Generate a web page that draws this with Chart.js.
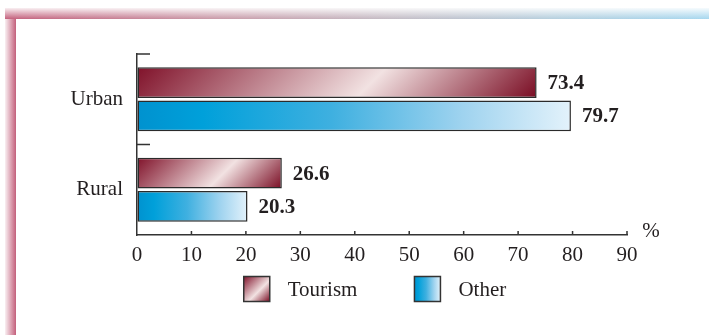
<!DOCTYPE html>
<html lang="en">
<head>
  <meta charset="utf-8"/>
  <title>Tourism and other – urban and rural</title>
  <script src="https://cdn.jsdelivr.net/npm/chart.js"></script>
  <style>
    html, body { margin: 0; padding: 0; background: #fff; }
    .wrap { position: relative; width: 709px; height: 335px; overflow: hidden; }
    .band-left {
      position: absolute; left: 5px; top: 8px; bottom: 0; width: 11px;
      background: linear-gradient(to right, rgba(255,255,255,0.9), rgba(255,255,255,0)), #c4607c;
    }
    .band-top {
      position: absolute; left: 5px; top: 8px; right: 0; height: 11px;
      background: linear-gradient(to bottom, rgba(255,255,255,0.9), rgba(255,255,255,0)),
                  linear-gradient(to right, #c4607c 0%, #c99aa8 30%, #c4bcc5 55%, #b5cfde 78%, #a6d7ef 100%);
    }
    canvas { position: absolute; left: 0; top: 0; }
  </style>
</head>
<body>
  <div class="wrap">
    <div class="band-left"></div>
    <div class="band-top"></div>
    <canvas id="shareChart" width="709" height="335"></canvas>
  </div>
  <script>
    // data
    const categories = ['Urban', 'Rural'];
    const seriesNames = ['Tourism', 'Other'];
    const tourism = [73.4, 26.6];
    const other = [79.7, 20.3];
    const xMin = 0, xMax = 90, xStep = 10;
    const unitLabel = '%';

    const serif = '"Liberation Serif", "Times New Roman", serif';
    const ink = '#231f20';
    const axisColor = '#333333';

    // diagonal dark-light-dark red fill
    function tourismFill(c, x0, x1, yTop, yBot) {
      const L = x1 - x0, h = yBot - yTop;
      const cx = (x0 + x1) / 2, cy = (yTop + yBot) / 2, d = (L + h) / 2;
      const g = c.createLinearGradient(cx - d / 2, cy - d / 2, cx + d / 2, cy + d / 2);
      g.addColorStop(0, '#80122a');
      g.addColorStop(0.58, '#f2e2e2');
      g.addColorStop(1, '#790b22');
      return g;
    }

    // blue fading to pale blue
    function otherFill(c, x0, x1) {
      const g = c.createLinearGradient(x0, 0, x1, 0);
      g.addColorStop(0, '#0092cf');
      g.addColorStop(0.15, '#00a0da');
      g.addColorStop(0.45, '#3fb0e0');
      g.addColorStop(0.75, '#9fd3ef');
      g.addColorStop(1, '#e3f2fb');
      return g;
    }

    const fills = [tourismFill, otherFill];
    const flat = ['#b05a6a', '#2aa8dc'];

    function barFill(ctx) {
      const el = ctx.element;
      if (!el || !Number.isFinite(el.x) || !Number.isFinite(el.base)) return flat[ctx.datasetIndex];
      const x0 = Math.min(el.base, el.x), x1 = Math.max(el.base, el.x);
      return fills[ctx.datasetIndex](ctx.chart.ctx, x0, x1, el.y - el.height / 2, el.y + el.height / 2);
    }

    // inside tick marks on both axes + the unit label
    const axisMarks = {
      id: 'axisMarks',
      afterDraw(chart) {
        const c = chart.ctx, x = chart.scales.x, y = chart.scales.y;
        c.save();
        c.strokeStyle = axisColor;
        c.lineWidth = 1.5;
        c.beginPath();
        for (let i = 0; i < categories.length; i++) {
          const py = y.getPixelForValue(i - 0.5);
          c.moveTo(x.left, py);
          c.lineTo(x.left + 13, py);
        }
        x.ticks.forEach(t => {
          if (t.value === xMin) return;
          const px = x.getPixelForValue(t.value);
          c.moveTo(px, y.bottom);
          c.lineTo(px, y.bottom - 4);
        });
        c.stroke();
        c.fillStyle = ink;
        c.font = '21px ' + serif;
        c.textAlign = 'center';
        c.textBaseline = 'middle';
        c.fillText(unitLabel, x.right + 24, y.bottom - 4);
        c.restore();
      }
    };

    // value at the end of each bar
    const barValues = {
      id: 'barValues',
      afterDatasetsDraw(chart) {
        const c = chart.ctx;
        c.save();
        c.fillStyle = ink;
        c.font = 'bold 21px ' + serif;
        c.textAlign = 'left';
        c.textBaseline = 'middle';
        chart.data.datasets.forEach((ds, di) => {
          chart.getDatasetMeta(di).data.forEach((el, i) => {
            c.fillText(ds.data[i].toFixed(1), el.x + 11, el.y + 1);
          });
        });
        c.restore();
      }
    };

    // legend under the axis with gradient swatches
    const swatchLegend = {
      id: 'swatchLegend',
      afterDraw(chart) {
        const c = chart.ctx, area = chart.chartArea;
        const bw = 26, bh = 25, gap = 18, spacing = 57, cy = 289;
        c.save();
        c.font = '21px ' + serif;
        const widths = chart.data.datasets.map(ds => c.measureText(ds.label).width);
        let total = 0;
        widths.forEach((w, i) => { total += bw + gap + w + (i ? spacing : 0); });
        let px = (area.left + area.right) / 2 - 7 - total / 2;
        chart.data.datasets.forEach((ds, i) => {
          const top = cy - bh / 2;
          c.fillStyle = fills[i](c, px, px + bw, top, top + bh);
          c.fillRect(px, top, bw, bh);
          c.strokeStyle = axisColor;
          c.lineWidth = 1.5;
          c.strokeRect(px, top, bw, bh);
          c.fillStyle = ink;
          c.textAlign = 'left';
          c.textBaseline = 'middle';
          c.fillText(ds.label, px + bw + gap, cy + 1);
          px += bw + gap + widths[i] + spacing;
        });
        c.restore();
      }
    };

    const barStyle = {
      backgroundColor: barFill,
      borderColor: '#2b2b2b',
      borderWidth: 1.5,
      borderSkipped: false
    };

    const chart = new Chart(document.getElementById('shareChart'), {
      type: 'bar',
      data: {
        labels: categories,
        datasets: [
          Object.assign({ label: seriesNames[0], data: tourism }, barStyle),
          Object.assign({ label: seriesNames[1], data: other }, barStyle)
        ]
      },
      options: {
        indexAxis: 'y',
        responsive: false,
        animation: false,
        categoryPercentage: 0.735,
        barPercentage: 0.925,
        layout: { padding: { left: 17, right: 82, top: 54, bottom: 60 } },
        scales: {
          x: {
            min: xMin,
            max: xMax,
            ticks: { stepSize: xStep, color: ink, font: { family: serif, size: 21 }, padding: 8 },
            grid: { drawOnChartArea: false, drawTicks: false },
            border: { display: true, color: axisColor, width: 1.5 },
            afterFit(s) { s.height = 40; }
          },
          y: {
            ticks: { color: ink, font: { family: serif, size: 21 }, padding: 14 },
            grid: { drawOnChartArea: false, drawTicks: false },
            border: { display: true, color: axisColor, width: 1.5 },
            afterFit(s) { s.width = 120; }
          }
        },
        plugins: {
          legend: { display: false },
          tooltip: { enabled: false }
        }
      },
      plugins: [axisMarks, barValues, swatchLegend]
    });
    // second pass so the bar gradients follow the laid-out bars
    chart.update();
  </script>
</body>
</html>
